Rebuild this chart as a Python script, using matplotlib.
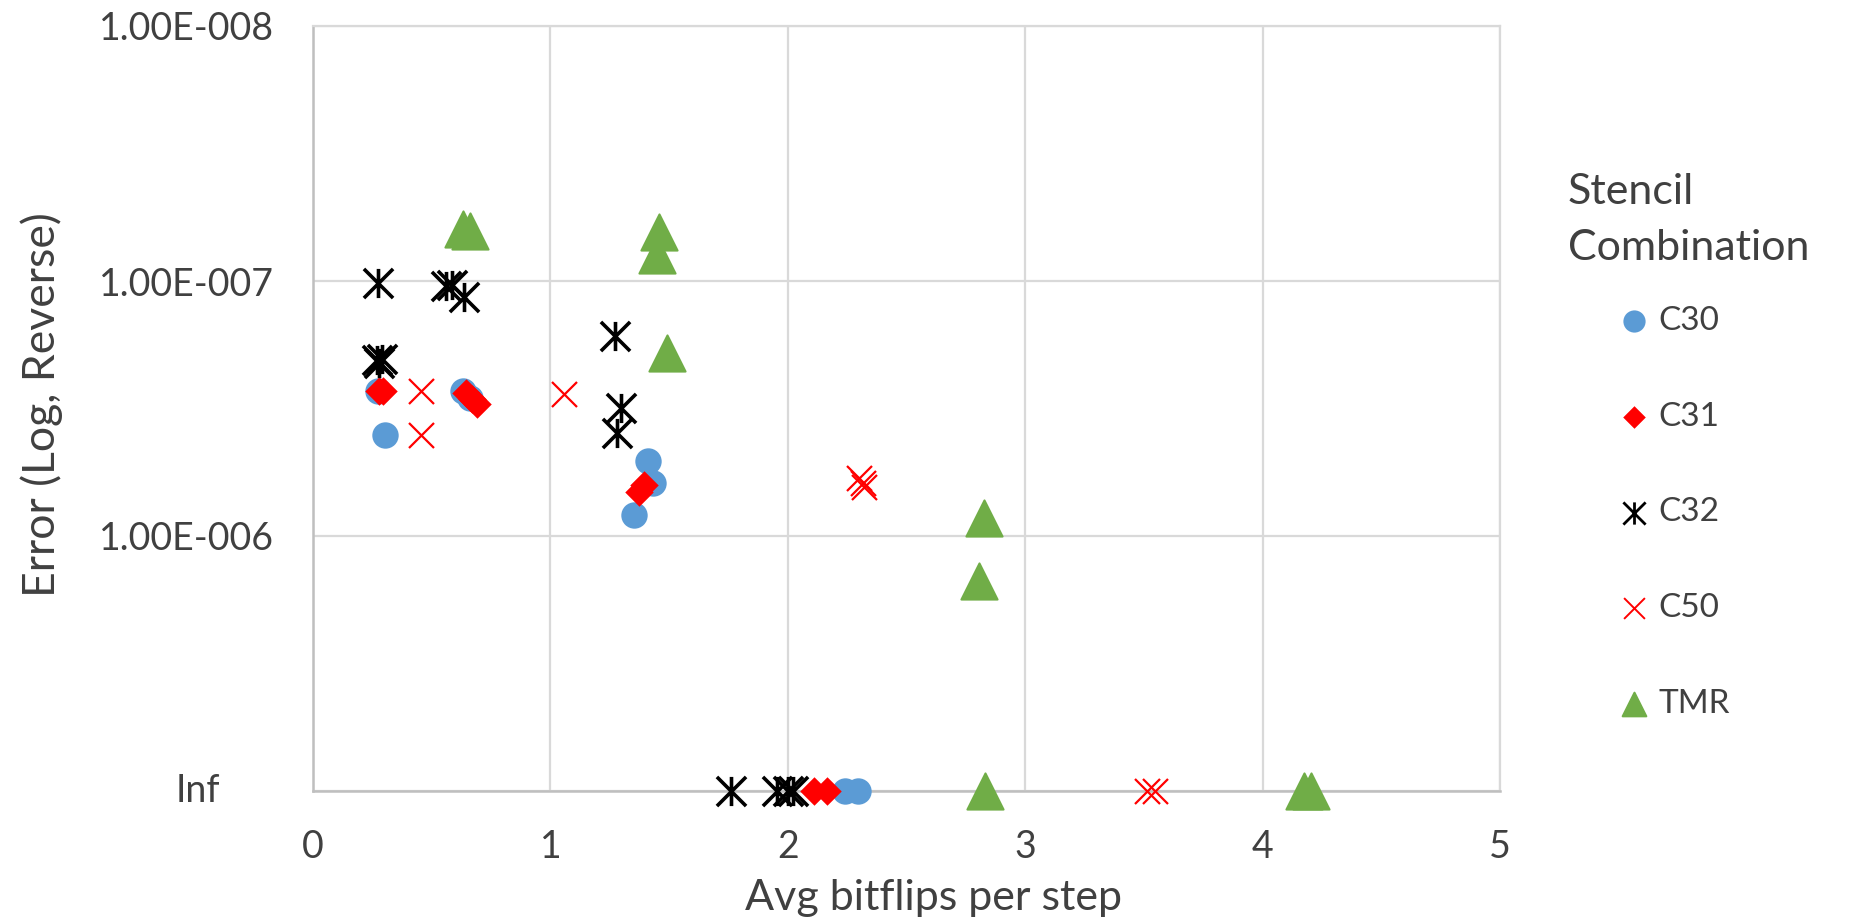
import numpy as np
import matplotlib
matplotlib.use("Agg")
import matplotlib.pyplot as plt
from matplotlib.path import Path
from matplotlib.markers import MarkerStyle
from matplotlib.transforms import blended_transform_factory

plt.rcParams['font.family'] = ['Lato', 'DejaVu Sans']

# DATA (np.inf = run diverged, drawn on the "Inf" row)
C30_X = [0.275, 0.303, 0.633, 0.66, 1.411, 1.432, 1.352, 2.24, 2.295]
C30_Y = [2.70e-7, 4.03e-7, 2.70e-7, 2.87e-7, 5.08e-7, 6.18e-7, 8.25e-7, np.inf, np.inf]

C31_X = [0.28, 0.295, 0.645, 0.67, 0.69, 1.375, 1.395, 2.11, 2.166]
C31_Y = [2.70e-7, 2.70e-7, 2.75e-7, 2.90e-7, 3.05e-7, 6.7e-7, 6.3e-7, np.inf, np.inf]

C32_X = [0.275, 0.56, 0.585, 0.635, 0.27, 0.28, 0.29, 1.271, 1.299, 1.28,
         1.76, 1.956, 2.0, 2.02]
C32_Y = [1.02e-7, 1.05e-7, 1.04e-7, 1.16e-7, 2.05e-7, 2.10e-7, 2.02e-7, 1.65e-7,
         3.14e-7, 3.93e-7, np.inf, np.inf, np.inf, np.inf]

C50_X = [0.453, 0.457, 1.057, 2.299, 2.316, 2.323, 3.513, 3.545]
C50_Y = [2.70e-7, 4.03e-7, 2.78e-7, 5.9e-7, 6.18e-7, 6.45e-7, np.inf, np.inf]

TMR_X = [0.633, 0.661, 1.458, 1.448, 1.49, 2.828, 2.805, 2.832, 4.175, 4.203]
TMR_Y = [6.26e-8, 6.37e-8, 6.4e-8, 7.9e-8, 1.91e-7, 8.47e-7, 1.5e-6,
         np.inf, np.inf, np.inf]

Y_TICKS = [1e-8, 1e-7, 1e-6, 1e-5]
Y_TICK_LABELS = ["1.00E-008", "1.00E-007", "1.00E-006", "Inf"]
X_TICKS = [0, 1, 2, 3, 4, 5]

INF_POS = 1e-5

# STYLE
BLUE = "#5B9BD5"
RED = "#FF0000"
GREEN = "#70AD47"
GRID = "#D9D9D9"
AXIS = "#BFBFBF"
TEXT = "#404040"

# asterisk marker: x plus vertical bar
STAR = Path([(-1, -1), (1, 1), (-1, 1), (1, -1), (0, -1), (0, 1)],
            [Path.MOVETO, Path.LINETO, Path.MOVETO, Path.LINETO, Path.MOVETO, Path.LINETO])


def fix_inf(v):
    v = np.asarray(v, dtype=float)
    return np.where(np.isinf(v), INF_POS, v)


fig = plt.figure(figsize=(18.52, 9.23), dpi=100)
ax = fig.add_axes([313 / 1852, 132 / 923, 1187 / 1852, 765 / 923])

ax.set_yscale('log')
ax.set_xlim(0, 5)
ax.set_ylim(1e-5, 1e-8)

h30 = ax.scatter(C30_X, fix_inf(C30_Y), s=19 ** 2, marker='o', color=BLUE,
                 linewidths=0, label="C30", clip_on=False, zorder=3)
h31 = ax.scatter(C31_X, fix_inf(C31_Y), s=14.5 ** 2, marker='D', color=RED,
                 linewidths=0, label="C31", clip_on=False, zorder=4)
h32 = ax.scatter(C32_X, fix_inf(C32_Y), s=21 ** 2, marker=STAR, color='black',
                 linewidths=2.6, label="C32", clip_on=False, zorder=5)
h50 = ax.scatter(C50_X, fix_inf(C50_Y), s=18 ** 2, marker='x', color=RED,
                 linewidths=1.6, label="C50", clip_on=False, zorder=6)
htmr = ax.scatter(TMR_X, fix_inf(TMR_Y), s=26 ** 2,
                  marker=MarkerStyle('^', joinstyle='round'), color=GREEN,
                  edgecolors=GREEN, linewidths=1.5, label="TMR", clip_on=False, zorder=7)

# grid and frame
ax.minorticks_off()
ax.set_xticks(X_TICKS)
ax.set_yticks(Y_TICKS)
ax.set_yticklabels(Y_TICK_LABELS[:-1] + [""])
ax.grid(True, color=GRID, linewidth=1.6, zorder=0)
ax.set_axisbelow(True)
for side in ['top', 'right']:
    ax.spines[side].set_color(GRID)
    ax.spines[side].set_linewidth(1.6)
for side in ['left', 'bottom']:
    ax.spines[side].set_color(AXIS)
    ax.spines[side].set_linewidth(1.8)
ax.tick_params(axis='both', length=0, labelsize=27, labelcolor=TEXT)
ax.tick_params(axis='y', pad=28)
ax.tick_params(axis='x', pad=27)

# the "Inf" label sits a bit off the other tick labels
trans = blended_transform_factory(ax.transAxes, ax.transData)
ax.text(-0.097, INF_POS, Y_TICK_LABELS[-1], transform=trans, ha='center', va='center',
        fontsize=27, color=TEXT)

ax.set_xlabel("Avg bitflips per step", fontsize=31, color=TEXT, va='center')
ax.xaxis.set_label_coords(0.523, -0.14)
ax.set_ylabel("Error (Log, Reverse)", fontsize=32, color=TEXT, va='center')
ax.yaxis.set_label_coords(-0.229, 0.505)

# legend
fig.text(1568 / 1852, 1 - 220 / 923, "Stencil\nCombination", fontsize=31, color=TEXT,
         ha='left', va='center', linespacing=1.55)
leg = ax.legend(handles=[h30, h31, h32, h50, htmr], loc='upper left',
                bbox_to_anchor=(1617 / 1852, 1 - 306 / 923), bbox_transform=fig.transFigure,
                frameon=False, fontsize=24, labelcolor=TEXT, handlelength=1.0,
                handletextpad=0.25, labelspacing=1.97, borderpad=0, borderaxespad=0)
# legend markers are smaller than the ones in the plot
for h, s in zip(leg.legend_handles, [16 ** 2, 11.5 ** 2, 16 ** 2, 15 ** 2, 17 ** 2]):
    h.set_sizes([s])
leg.legend_handles[2].set_linewidths(2.0)
leg.legend_handles[3].set_linewidths(1.4)

fig.savefig("out.png", dpi=100)
